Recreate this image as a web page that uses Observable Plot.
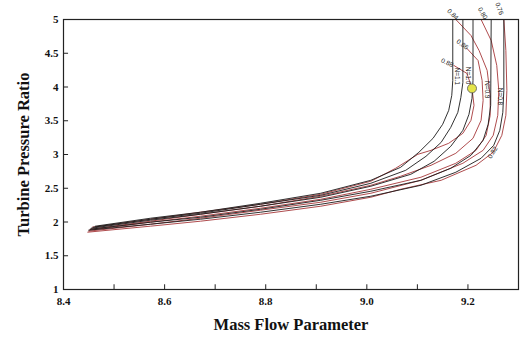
<!DOCTYPE html>
<html>
<head>
<meta charset="utf-8">
<script src="https://cdn.jsdelivr.net/npm/d3@7"></script>
<script src="https://cdn.jsdelivr.net/npm/@observablehq/plot@0.6"></script>
<style>
  html, body { margin: 0; padding: 0; background: #fff; }
  #chart svg { font-family: "Liberation Serif", "Times New Roman", serif; }
  #chart svg [aria-label="x-axis tick label"], #chart svg [aria-label="y-axis tick label"] { font-weight: bold; font-size: 11px; }
  #chart svg [aria-label="x-axis label"], #chart svg [aria-label="y-axis label"] { font-weight: bold; font-size: 16.5px; }
</style>
</head>
<body>
<div id="chart"></div>
<script>
// Speed lines (black) : [mass flow parameter, turbine pressure ratio]
const speedA = [[8.463,1.938],[8.572,2.056],[8.671,2.145],[8.790,2.278],[8.909,2.426],[9.008,2.618],[9.067,2.811],[9.103,3.033],[9.131,3.240],[9.150,3.447],[9.162,3.654],[9.168,3.876],[9.170,4.098],[9.170,5.0]];
const speedB = [[8.459,1.923],[8.572,2.041],[8.671,2.130],[8.790,2.263],[8.909,2.396],[9.008,2.574],[9.077,2.766],[9.117,2.973],[9.147,3.180],[9.166,3.402],[9.180,3.624],[9.186,3.846],[9.190,4.068],[9.190,5.0]];
const speedC = [[8.455,1.908],[8.572,2.027],[8.671,2.115],[8.790,2.234],[8.909,2.367],[9.008,2.530],[9.087,2.707],[9.133,2.899],[9.166,3.121],[9.190,3.358],[9.202,3.595],[9.208,3.831],[9.210,4.098],[9.210,5.0]];
const speedD = [[8.453,1.893],[8.572,1.997],[8.671,2.071],[8.790,2.189],[8.909,2.322],[9.008,2.456],[9.107,2.618],[9.166,2.796],[9.206,2.988],[9.230,3.210],[9.240,3.447],[9.245,3.728],[9.246,5.0]];
const speedE = [[8.450,1.879],[8.572,1.967],[8.671,2.041],[8.790,2.145],[8.909,2.263],[9.008,2.382],[9.107,2.544],[9.176,2.737],[9.226,2.944],[9.251,3.136],[9.263,3.358],[9.269,3.624],[9.271,3.950],[9.271,5.0]];

// Efficiency contours (red)
const eff088 = [[9.172,4.320],[9.198,4.201],[9.208,3.979],[9.212,3.728],[9.206,3.506],[9.190,3.314],[9.162,3.166],[9.127,3.062],[9.101,3.003],[9.057,2.796],[9.008,2.604],[8.909,2.411],[8.790,2.263],[8.671,2.145],[8.572,2.041],[8.457,1.923]];
const eff086 = [[9.198,4.571],[9.220,4.393],[9.228,4.098],[9.230,3.802],[9.226,3.506],[9.210,3.240],[9.176,3.018],[9.127,2.840],[9.067,2.678],[9.008,2.544],[8.909,2.382],[8.790,2.234],[8.671,2.115],[8.572,2.012],[8.453,1.893]];
const eff084 = [[9.176,5.0],[9.206,4.763],[9.222,4.541],[9.238,4.246],[9.244,3.876],[9.244,3.580],[9.236,3.284],[9.216,3.062],[9.176,2.870],[9.107,2.663],[9.008,2.485],[8.909,2.337],[8.790,2.204],[8.671,2.086],[8.572,1.997],[8.451,1.879]];
const eff080 = [[9.226,5.0],[9.246,4.689],[9.257,4.320],[9.261,3.950],[9.259,3.580],[9.250,3.284],[9.230,3.062],[9.190,2.870],[9.107,2.618],[9.008,2.426],[8.909,2.293],[8.790,2.175],[8.671,2.056],[8.572,1.967],[8.450,1.864]];
const eff076 = [[9.271,5.0],[9.275,4.541],[9.277,3.950],[9.275,3.580],[9.267,3.284],[9.250,3.033],[9.216,2.840],[9.147,2.618],[9.067,2.485],[9.008,2.367],[8.909,2.234],[8.790,2.115],[8.671,2.012],[8.572,1.938],[8.448,1.849]];

// Operating point
const opPoint = [[9.208, 3.979]];

// Curve labels: [text, x, y, rotation]
const curveLabels = [
  ["0.84", 9.170, 5.075, 45],
  ["0.80", 9.229, 5.09, 60],
  ["0.76", 9.262, 5.16, 70],
  ["0.86", 9.189, 4.63, 35],
  ["0.88", 9.159, 4.36, 25],
  ["N=1.1", 9.178, 4.16, 90],
  ["N=1.0", 9.200, 4.17, 90],
  ["N=0.9", 9.238, 3.96, 90],
  ["N=0.8", 9.263, 3.86, 90],
  ["0.82", 9.249, 3.03, -60]
];

// Axis ticks
const xTicksMajor = [8.4, 8.6, 8.8, 9.0, 9.2];
const xTicksAll = [8.4, 8.5, 8.6, 8.7, 8.8, 8.9, 9.0, 9.1, 9.2, 9.3];
const yTicks = [1, 1.5, 2, 2.5, 3, 3.5, 4, 4.5, 5];

const curves = [
  ["A", "speed", speedA], ["B", "speed", speedB], ["C", "speed", speedC], ["D", "speed", speedD], ["E", "speed", speedE],
  ["e88", "eff", eff088], ["e86", "eff", eff086], ["e84", "eff", eff084], ["e80", "eff", eff080], ["e76", "eff", eff076]
];
const rows = curves.flatMap(([id, kind, pts]) => pts.map(([x, y]) => ({id, kind, x, y})));
const labelRows = curveLabels.map(([text, x, y, rotate]) => ({text, x, y, rotate}));

const chart = Plot.plot({
  width: 523,
  height: 337,
  marginLeft: 63,
  marginRight: 5,
  marginTop: 19,
  marginBottom: 48,
  x: {domain: [8.4, 9.3]},
  y: {domain: [1, 5]},
  style: {background: "#fff", color: "#111"},
  marks: [
    Plot.line(rows.filter(d => d.kind === "eff"), {x: "x", y: "y", z: "id", stroke: "#a6383a", strokeWidth: 0.9}),
    Plot.line(rows.filter(d => d.kind === "speed"), {x: "x", y: "y", z: "id", stroke: "#1a1a1a", strokeWidth: 0.9}),
    Plot.text(labelRows, {x: "x", y: "y", text: "text", rotate: "rotate", fontSize: 6.5, fontFamily: "Liberation Sans, Arial, sans-serif", fill: "#222"}),
    Plot.dot(opPoint, {x: d => d[0], y: d => d[1], r: 4.5, fill: "#e4e44a", stroke: "#555", strokeWidth: 0.8}),
    Plot.ruleX(xTicksAll, {x: d => d, y1: 1, y2: 1.07, stroke: "#222"}),
    Plot.ruleY(yTicks, {y: d => d, x1: 8.4, x2: 8.41, stroke: "#222"}),
    Plot.axisX(xTicksMajor, {tickSize: 0, tickPadding: 8, tickFormat: d3.format(".1f"), label: "Mass Flow Parameter", labelAnchor: "center", labelArrow: "none", labelOffset: 40}),
    Plot.axisY(yTicks, {tickSize: 0, tickPadding: 5, tickFormat: d => String(d), label: "Turbine Pressure Ratio", labelAnchor: "center", labelArrow: "none", labelOffset: 46}),
    Plot.frame({stroke: "#222", strokeWidth: 1.2})
  ]
});
document.getElementById("chart").appendChild(chart);
</script>
</body>
</html>
